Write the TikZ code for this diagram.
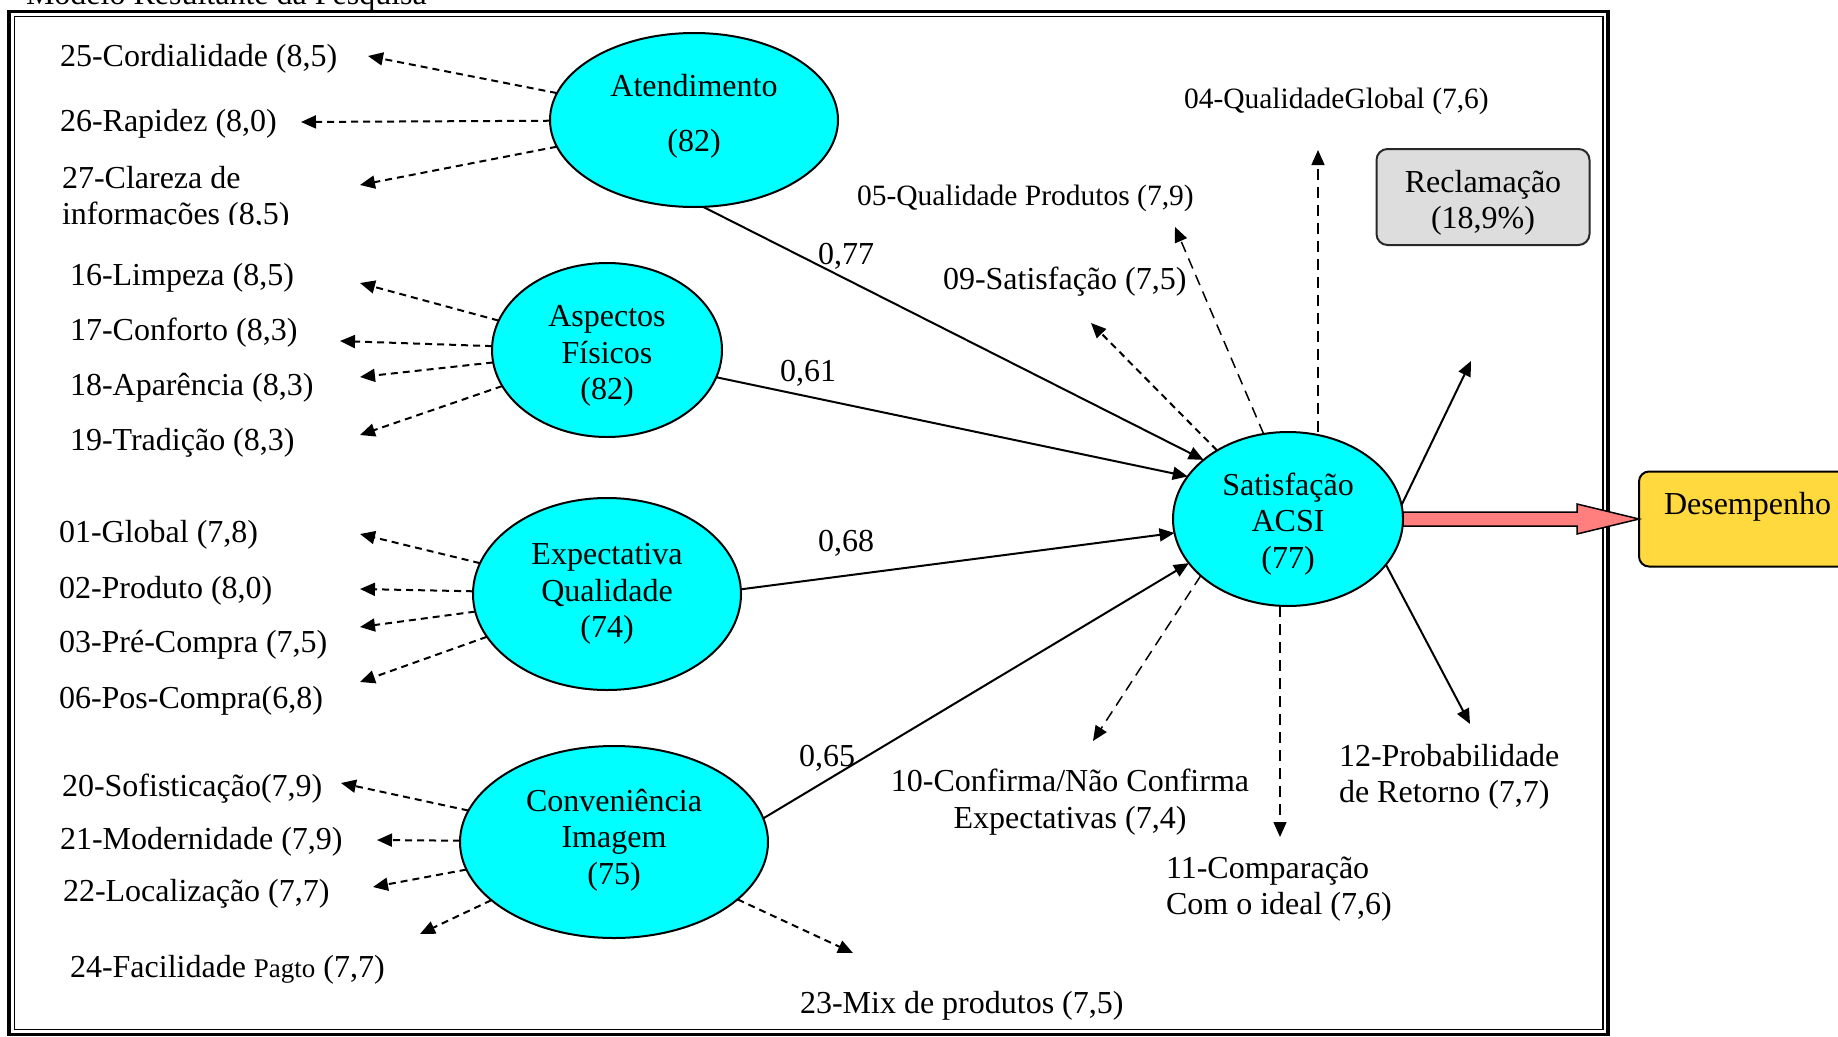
\documentclass[tikz,border=0pt]{standalone}
\usepackage{fontspec}
\setmainfont{Liberation Serif}
\usetikzlibrary{arrows.meta,shapes.geometric}
\definecolor{latentfill}{RGB}{0,255,255}
\definecolor{arrowpink}{RGB}{255,127,127}
\definecolor{deskgold}{RGB}{255,217,61}
\definecolor{boxgray}{RGB}{221,221,221}
\definecolor{boxedge}{RGB}{40,40,40}
\begin{document}
\begin{tikzpicture}[x=1pt,y=-1pt,
  every node/.style={inner sep=0pt, outer sep=0pt, font=\fontsize{32}{36.5}\selectfont},
  latent/.style={ellipse, draw=black, line width=2pt, fill=latentfill},
  latenttext/.style={align=center},
  item/.style={anchor=west, align=left, yshift=-3pt},
  smallitem/.style={item, font=\fontsize{29.5}{34}\selectfont},
  coef/.style={anchor=center, yshift=-3pt},
  tipped/.style={-{Triangle[length=15pt,width=13pt]}},
  dashthick/.style={tipped, line width=2pt, dash pattern=on 7pt off 5pt},
  dashthin/.style={tipped, line width=1.5pt, dash pattern=on 11pt off 7pt},
  solidarrow/.style={tipped, line width=2pt},
]
\useasboundingbox (0,0) rectangle (1838,1036);

% double frame and caption
\draw[line width=3.5pt] (9,11.5) rectangle (1608,1034.5);
\draw[line width=1.7pt] (14.5,16.5) rectangle (1603,1029.5);
\node[anchor=base west] (caption) at (26,5) {Modelo Resultante da Pesquisa};

% latent variables
\node[latent, minimum width=288pt, minimum height=174pt] (atend) at (694,120) {};
\node[latent, minimum width=230pt, minimum height=174pt] (asp) at (607,350) {};
\node[latent, minimum width=268pt, minimum height=192pt] (expq) at (607,594) {};
\node[latent, minimum width=308pt, minimum height=192pt] (conv) at (614,842) {};
\node[latent, minimum width=230pt, minimum height=174pt] (sat) at (1288,519) {};
\node[latenttext] (atendtxt) at (694,116) {Atendimento\\[18.5pt](82)};
\node[latenttext] (asptxt) at (607,356) {Aspectos\\Físicos\\(82)};
\node[latenttext] (expqtxt) at (607,594) {Expectativa\\Qualidade\\(74)};
\node[latenttext] (convtxt) at (614,840) {Conveniência\\Imagem\\(75)};
\node[latenttext] (sattxt) at (1288,524) {Satisfação\\ACSI\\(77)};

% outcome boxes
\node[draw=boxedge, line width=2pt, fill=boxgray, rounded corners=11pt, minimum width=213pt, minimum height=96pt] (recl) at (1483,197) {};
\node[align=center] (recltxt) at (1483,203) {Reclamação\\(18,9\%)};
\node[draw=black, line width=2pt, fill=deskgold, rounded corners=10pt, minimum width=240pt, minimum height=95pt, anchor=west] (desemp) at (1639,519) {};
\node[anchor=west] (desemptxt) at ([xshift=25pt,yshift=12.5pt]desemp.west) {Desempenho};

% indicators: Atendimento
\node[item] (i25) at (60,56) {25-Cordialidade (8,5)};
\node[item] (i26) at (60,121) {26-Rapidez (8,0)};
\begin{scope}
  \clip (40,150) rectangle (360,224);
  \node[item] (i27) at (62,196) {27-Clareza de\\informações (8,5)};
\end{scope}
% indicators: Aspectos Fisicos
\node[item] (i16) at (70,275) {16-Limpeza (8,5)};
\node[item] (i17) at (70,330) {17-Conforto (8,3)};
\node[item] (i18) at (70,385) {18-Aparência (8,3)};
\node[item] (i19) at (70,440) {19-Tradição (8,3)};
% indicators: Expectativa Qualidade
\node[item] (i01) at (59,532) {01-Global (7,8)};
\node[item] (i02) at (59,588) {02-Produto (8,0)};
\node[item] (i03) at (59,642) {03-Pré-Compra (7,5)};
\node[item] (i06) at (59,698) {06-Pos-Compra(6,8)};
% indicators: Conveniencia Imagem
\node[item] (i20) at (62,786) {20-Sofisticação(7,9)};
\node[item] (i21) at (60,839) {21-Modernidade (7,9)};
\node[item] (i22) at (63,891) {22-Localização (7,7)};
\node[item] (i24) at (70,967) {24-Facilidade {\fontsize{27}{30}\selectfont Pagto} (7,7)};
\node[item] (i23) at (800,1003) {23-Mix de produtos (7,5)};
% indicators: Satisfacao
\node[smallitem] (i04) at (1184,98) {04-QualidadeGlobal (7,6)};
\node[smallitem] (i05) at (857,195) {05-Qualidade Produtos (7,9)};
\node[item] (i09) at (943,279) {09-Satisfação (7,5)};
\node[align=center, yshift=-2pt] (i10) at (1070,800) {10-Confirma/Não Confirma\\Expectativas (7,4)};
\node[item] (i11) at (1166,886) {11-Comparação\\Com o ideal (7,6)};
\node[item] (i12) at (1339,774) {12-Probabilidade\\de Retorno (7,7)};

% path coefficients
\node[coef] (c77) at (846,253) {0,77};
\node[coef] (c61) at (808,370) {0,61};
\node[coef] (c68) at (846,540) {0,68};
\node[coef] (c65) at (827,755) {0,65};

% arrow ends near the indicator texts
\coordinate (t25) at (368,56);
\coordinate (t26) at (301,122);
\coordinate (t27) at (360,185);
\coordinate (t16) at (360,283);
\coordinate (t17) at (340,341);
\coordinate (t18) at (360,377);
\coordinate (t19) at (360,435);
\coordinate (t01) at (360,534);
\coordinate (t02) at (360,589);
\coordinate (t03) at (360,627);
\coordinate (t06) at (360,682);
\coordinate (t20) at (341,783);
\coordinate (t21) at (377,840);
\coordinate (t22) at (373,887);
\coordinate (t24) at (420,934);
\coordinate (t23) at (853,953);
\coordinate (t09) at (1091,323);
\coordinate (t05) at (1175,227);
\coordinate (t04) at (1318,150);
\coordinate (t10) at (1093,741);
\coordinate (t11) at (1280,837);
\coordinate (t12) at (1470,724);
\coordinate (tR) at (1471,361);

% measurement arrows
\foreach \t in {t25,t26,t27} \draw[dashthick] (atend) -- (\t);
\foreach \t in {t16,t17,t18,t19} \draw[dashthick] (asp) -- (\t);
\foreach \t in {t01,t02,t03,t06} \draw[dashthick] (expq) -- (\t);
\foreach \t in {t20,t21,t22,t24,t23} \draw[dashthick] (conv) -- (\t);
\draw[dashthick] (sat.136) -- (t09);
\draw[dashthin] (sat.106) -- (t05);
\draw[dashthin] (sat.north -| t04) -- (t04);
\draw[dashthin] (sat.213) -- (t10);
\draw[dashthin] (sat.south -| t11) -- (t11);

% structural paths
\draw[solidarrow] (atend.-84) -- (sat.145);
\draw[solidarrow] (asp.-14) -- (sat.157);
\draw[solidarrow] (expq.2) -- (sat.187);
\draw[solidarrow] (conv.9) -- (sat.204);
\draw[solidarrow] (sat.7) -- (tR);
\draw[solidarrow] (sat.-25) -- (t12);

% block arrow to Desempenho
\draw[line width=1.5pt, fill=arrowpink, line join=miter]
  ([yshift=7pt]sat.east) -- ([xshift=-62pt,yshift=7pt]desemp.west)
  -- ([xshift=-62pt,yshift=15pt]desemp.west) -- (desemp.west)
  -- ([xshift=-62pt,yshift=-15pt]desemp.west) -- ([xshift=-62pt,yshift=-7pt]desemp.west)
  -- ([yshift=-7pt]sat.east) -- cycle;
\end{tikzpicture}
\end{document}
